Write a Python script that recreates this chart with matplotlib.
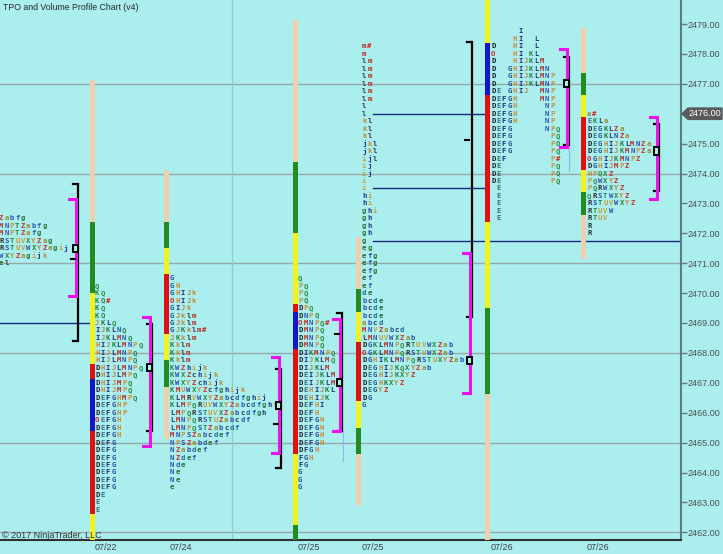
import matplotlib.pyplot as plt
from matplotlib.patches import Rectangle, Polygon

BG = '#aaeeee'
TAN, GREEN, YELLOW, RED, BLUE = '#efd0ae', '#228b22', '#f2f21e', '#e01010', '#1414c8'
TICK = 0.25     # TPO row height (price)
PITCH = 5.4     # letter pitch (x units)

# ---- TPO profiles: top row price + letter rows ----
s1_top = 2472.5
s1_rows = ["Zabfg", "MNPTZabfg", "MNPTZafg", "RSTUVXYZag", "RSTUVWXYZagij",
           "WXYZagijk", "el"]

s2_top = 2470.25
s2_rows = ["Q", "KQ", "KQ#", "KQ", "KQ", "JKLQ", "IJKLNQ", "IJKLMNQ", "HIJKLMNPQ",
           "HIJLMNPQ", "HIJLMNPQ", "DHIJLMNPQ", "DHIJLMPQ", "DHIJMPQ", "DHIJMPQ",
           "DEFGHMPQ", "DEFGHP", "DEFGHP", "OEFGH", "DEFGH", "DEFGH", "DEFG", "DEFG",
           "DEFG", "DEFG", "DEFG", "DEFG", "DEFG", "DE", "E", "E"]

s3_top = 2470.5
s3_rows = ["G", "GH", "GHIJk", "OHIJk", "GIJk", "GJklm", "GJklm", "GJKklm#", "JKklm",
           "Kklm", "Kklm", "Kklm", "KWZhijk", "KWXZchijk", "KWXYZchijk",
           "KMUWXYZcfghijk", "KLMRVWXYZabcdfghij", "KLMPQRUVWXYZabcdfghi",
           "LMPQRSTUVXZabcdfgh", "LMNPQRSTUZabcdf", "LMNPQSTZabcdf", "MNPSZabcdef",
           "NPSZabdef", "NZabdef", "NZdef", "Nde", "Ne", "Ne", "e"]

s4_top = 2470.5
s4_rows = ["Q", "PQ", "PQ", "PQ", "DPQ", "DNPQ", "OMNPQ#", "DMNPQ", "DMNPQ", "DMNPQ",
           "DIKMNPQ", "DIJKLMQ", "DIJKLM", "DEIJKLM", "DEIJKLM", "DEHIJKL", "DEHIJK",
           "DEFHI", "DEFH", "DEFGH", "DEFGH", "DEFGH", "DEFGH", "DFGH", "FGH", "FG",
           "G", "G", "G"]

s5_top = 2478.25
s5_rows = ["m#", "m", "lm", "lm", "lm", "lm", "lm", "lm", "l", "l", "kl", "kl", "kl",
           "jkl", "jkl", "ijl", "ij", "ij", "i", "i", "hi", "hi", "ghi", "gh", "gh",
           "gh", "g", "eg", "efg", "efg", "efg", "ef", "ef", "de", "bcde", "bcde",
           "bcde", "abcd", "MNVZabcd", "LMNUVWXZab", "DGKLMNPQRTUVWXZab",
           "OGKLMNPQRSTUWXZab", "DGHIKLMNPQRSTUXYZab", "DEGHIJKQXYZab",
           "DEGHIJKXYZ", "DEGHKXYZ", "DEGYZ", "DG", "G"]

s6_top = 2478.75
s6_rows = ["     I", "    HI  L", "D   HI  L", "O   HI KL", "D   HIJKLM",
           "D  GHIJKLMN", "D  GHIJKLMNP", "D  GHIJKLMNP", "DE GHIJ  MNP",
           "DEFGH    MNP", "DEFGH     NP", "DEFGH     NP", "DEFGH     NP",
           "DEFG      NPQ", "DEFG       PQ", "DEFG       PQ", "DEFG       PQ",
           "DEF        P#", "DE         PQ", "DE         PQ", "DE         PQ",
           " E", " E", " E", " E", " E"]

s7_top = 2476.0
s7_rows = ["a#", "EKLa", "DEGKLZa", "DEGKLNZa", "DEGHIJKLMNZa", "DEGHIJKMNPZa",
           "OGHIJKMNPZ", "DGHIJMPZ", "HPQXZ", "PQWXYZ", "PQRWXYZ", "QRSTWXYZ",
           "RSTUVWXYZ", "RTUVW", "RTUV", "R", "R"]

# ---- colour bars: price breaks (top -> bottom) and segment colours ----
s2_breaks = [2477.125, 2472.375, 2470.0, 2467.625, 2467.125, 2465.375, 2462.625, 2461.5]
s2_cols = [TAN, GREEN, YELLOW, RED, BLUE, RED, YELLOW]
s3_breaks = [2474.125, 2472.375, 2471.5, 2470.625, 2468.625, 2467.75, 2466.875, 2465.125]
s3_cols = [TAN, GREEN, YELLOW, RED, YELLOW, GREEN, TAN]
s4_breaks = [2479.125, 2474.375, 2472.0, 2469.625, 2469.375, 2468.125, 2464.625, 2462.25, 2461.5]
s4_cols = [TAN, GREEN, YELLOW, RED, BLUE, RED, YELLOW, GREEN]
s5_breaks = [2471.875, 2470.125, 2469.375, 2468.375, 2466.375, 2465.5, 2464.625, 2462.875]
s5_cols = [TAN, GREEN, YELLOW, RED, YELLOW, GREEN, TAN]
s6_breaks = [2480.0, 2478.375, 2476.625, 2472.375, 2469.5, 2466.625, 2461.5]
s6_cols = [YELLOW, BLUE, RED, YELLOW, GREEN, TAN]
s7_breaks = [2478.875, 2477.375, 2476.625, 2475.875, 2474.125, 2473.375, 2472.625, 2471.125]
s7_cols = [TAN, GREEN, YELLOW, RED, YELLOW, GREEN, TAN]

# ---- value area (magenta), black range, POC, mid tick: (top, bottom) prices ----
va_ranges = [(2473.15, 2469.9), (2469.2, 2464.9), (2467.85, 2464.65), (2469.15, 2465.4),
             (2471.35, 2466.65), (2478.15, 2474.9), (2475.9, 2473.15)]
blk_ranges = [(2473.65, 2468.4), (2468.95, 2465.4), (2467.45, 2464.15), (2469.35, 2465.4),
              (2478.4, 2469.2), (2477.9, 2474.95), (2475.65, 2473.4)]
poc_prices = [2471.5, 2467.5, 2466.25, 2467.0, 2467.75, 2477.0, 2474.75]
mid_ticks = [2471.125, None, 2465.625, 2468.625, 2475.125, None, None]

# naked POC lines: price, x from, x to
npoc_prices = [2469.0, 2476.0, 2473.5, 2471.75]
npoc_from = [0, 373, 373, 373]
npoc_to = [90, 486, 486, 681]

dates = ["07/22", "07/24", "07/25", "07/25", "07/26", "07/26"]
last_price = 2476.0

letter_colors = {
    'D': '#1e1e1e', 'E': '#3a6a80', 'F': '#1a2a78', 'G': '#1f4f9a', 'H': '#cc8a35',
    'I': '#232f8a', 'J': '#b88a48', 'K': '#2b7f42', 'L': '#283a6e', 'M': '#b4302a',
    'N': '#2a52b8', 'P': '#c8923c', 'Q': '#2a8a3c', 'R': '#2e2e2e', 'S': '#2a52b8',
    'T': '#2a8a3c', 'U': '#c49c3a', 'V': '#c8a43a', 'W': '#3454b4', 'X': '#2a8a3c',
    'Y': '#c08c34', 'Z': '#c8342c', 'a': '#9c9030', 'b': '#2a52b8', 'c': '#303848',
    'd': '#2a6a9a', 'e': '#2a6a34', 'f': '#2a58b0', 'g': '#2a7a3c', 'h': '#22348c',
    'i': '#c4a040', 'j': '#22348c', 'k': '#c08c34', 'l': '#3a3a50', 'm': '#b4302a',
    'O': '#d42020', '#': '#d42020'}

# layout: x of colour bar, x where letters start, x of brackets
bar_x = [None, 92, 166, 295, 358, 487, 583]
text_x = [-1, 95, 170, 298, 362, 491, 587]
brk_x = [76, 150, 279, 340, 470, 567, 657]

fig = plt.figure(figsize=(7.23, 5.54), dpi=100, facecolor=BG)
ax = fig.add_axes([0, 14 / 554, 681 / 723, 540 / 554], facecolor=BG)
ax.set_xlim(0, 681)
ax.set_ylim(2479 - 516 / 29.9, 2479 + 24 / 29.9)

# grid
for p in range(2462, 2480, 3):
    ax.axhline(p, color='#98a8a8', lw=1, zorder=1)
ax.axvline(232, color='#90cccc', lw=0.9, zorder=1)

tops = [s1_top, s2_top, s3_top, s4_top, s5_top, s6_top, s7_top]
rows_all = [s1_rows, s2_rows, s3_rows, s4_rows, s5_rows, s6_rows, s7_rows]
breaks_all = [None, s2_breaks, s3_breaks, s4_breaks, s5_breaks, s6_breaks, s7_breaks]
cols_all = [None, s2_cols, s3_cols, s4_cols, s5_cols, s6_cols, s7_cols]

for p, x0, x1 in zip(npoc_prices, npoc_from, npoc_to):
    ax.plot([x0, x1], [p, p], color='#1a2a7a', lw=1, zorder=2)

for k in range(7):
    # colour bar
    if breaks_all[k] is not None:
        br = breaks_all[k]
        for i, c in enumerate(cols_all[k]):
            ax.bar(bar_x[k], br[i] - br[i + 1], bottom=br[i + 1], width=5,
                   color=c, zorder=3)
    # letters
    for i, row in enumerate(rows_all[k]):
        p = tops[k] - i * TICK
        for j, ch in enumerate(row):
            if ch == ' ':
                continue
            ax.text(text_x[k] + j * PITCH + 2.2, p, ch, color=letter_colors[ch],
                    fontsize=5.2, family='DejaVu Sans Mono', weight='bold',
                    ha='center', va='center', zorder=4)
    # black range bracket
    bx = brk_x[k] + 2
    t, b = blk_ranges[k]
    ax.plot([bx - 5, bx, bx, bx - 5], [t, t, b, b], color='black', lw=1.6,
            solid_joinstyle='miter', zorder=5)
    # value area bracket
    mx = brk_x[k]
    t, b = va_ranges[k]
    ax.plot([mx - 7, mx, mx, mx - 7], [t, t, b, b], color='#ee10ee', lw=2.2,
            solid_joinstyle='miter', zorder=6)
    if mid_ticks[k] is not None:
        ax.plot([mx - 5, mx - 1], [mid_ticks[k]] * 2, color='black', lw=1.5, zorder=6)
    # POC box
    ax.add_patch(Rectangle((mx - 3, poc_prices[k] - 0.12), 4.5, 0.24, fill=True,
                           facecolor=BG, edgecolor='black', lw=1.4, zorder=7))

# faint connector lines
ax.plot([343, 343], [2465.4, 2464.4], color='#8fb8e8', lw=0.8, zorder=2)
ax.plot([569, 569], [2474.9, 2474.1], color='#8fb8e8', lw=0.8, zorder=2)

# axes styling
for s in ['left', 'top']:
    ax.spines[s].set_visible(False)
ax.spines['right'].set_color('#5f7c7c')
ax.spines['right'].set_linewidth(1.5)
ax.spines['bottom'].set_color('#303030')
ax.spines['bottom'].set_linewidth(1.5)

ax.yaxis.tick_right()
yt = list(range(2462, 2480))
ax.set_yticks(yt)
ax.set_yticklabels([f"{v:.2f}" for v in yt])
ax.tick_params(axis='y', length=4, width=1, color='#5f7c7c', labelcolor='#505050',
               labelsize=6.5, pad=1)
for lab in ax.get_yticklabels():
    lab.set_family('Liberation Sans')

ax.set_xticks(text_x[1:])
ax.set_xticklabels(dates)
ax.tick_params(axis='x', length=0, labelcolor='#404040', labelsize=6.5, pad=2)
for lab in ax.get_xticklabels():
    lab.set_family('Liberation Sans')
    lab.set_ha('left')

# last price marker
h = 0.19
ax.add_patch(Polygon([(682, last_price), (688, last_price + h), (722, last_price + h),
                      (722, last_price - h), (688, last_price - h)],
                     closed=True, facecolor='#5a5a5a', edgecolor='#5a5a5a',
                     clip_on=False, zorder=8))
ax.text(705, last_price, f"{last_price:.2f}", color='white', fontsize=6.5,
        family='Liberation Sans', ha='center', va='center', clip_on=False, zorder=9)

fig.text(3 / 723, 1 - 8 / 554, "TPO and Volume Profile Chart (v4)", fontsize=6.3,
         family='Liberation Sans', color='#2a2a2a', va='center')
fig.text(2 / 723, 1 - 535 / 554, "\u00a9 2017 NinjaTrader, LLC", fontsize=6.5,
         family='Liberation Sans', color='#333333', va='center')

fig.savefig('out.png', dpi=100, facecolor=BG)
